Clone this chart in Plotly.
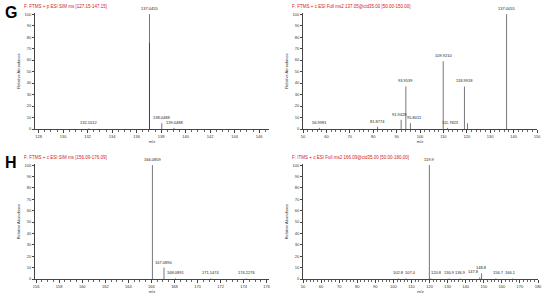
import plotly.graph_objects as go

# ---------------- data ----------------
g1_title = "F: FTMS + p ESI SIM ms [127.15-147.15]"
g1_mz = [132.1012, 137.0455, 138.0488, 139.0488]
g1_int = [0.5, 100, 5, 1]
g1_lab = ["132.1012", "137.0455", "138.0488", "139.0488"]
g1_dark_mz = [137.0455]
g1_dark_int = [75]

g2_title = "F: FTMS + c ESI Full ms2 137.05@cid35.00 [50.00-150.00]"
g2_mz = [56.9981, 81.8774, 91.9428, 93.9539, 95.9011, 109.9210, 111.7823, 118.9918, 120.3, 137.0055]
g2_int = [1, 2, 8, 37, 5, 59, 1, 37, 5, 100]
g2_lab = ["56.9981", "81.8774", "91.9428", "93.9539", "95.8011", "109.9210", "111.7823", "118.9918", "", "137.0055"]
g2_shift = [0, 0, -2, 0, 4, 0, 3, 0, 0, 0]

h1_title = "F: FTMS + c ESI SIM ms [156.09-176.09]"
h1_mz = [166.0859, 167.0890, 168.0891, 171.1474, 174.2276]
h1_int = [100, 10, 0.5, 0.5, 0.5]
h1_lab = ["166.0859", "167.0890", "168.0891", "171.1474", "174.2276"]

h2_title = "F: ITMS + c ESI Full ms2 166.09@cid35.00 [50.00-180.00]"
h2_mz = [102.8, 107.0, 119.9, 120.8, 130.9, 136.9, 147.8, 148.8, 156.7, 166.1]
h2_int = [0.5, 0.5, 100, 0.5, 0.5, 0.5, 1.5, 5, 0.5, 0.5]
h2_lab = ["102.8", "107.0", "119.9", "120.8", "130.9", "136.9", "147.8", "148.8", "156.7", "166.1"]
h2_shift = [0, 4, 0, 6, 0, 0, -6, 0, 3, -2]

W, H = 550, 295
FONT = "Liberation Sans"

def px_x(a, b):
    return [a / W, b / W]

def px_y(top, bottom):
    return [1 - bottom / H, 1 - top / H]

panels = [
    dict(mz=g1_mz, it=g1_int, lab=g1_lab, title=g1_title, xr=[127.7, 146.8], dt=2, x0=128,
         xd=px_x(35, 269), yd=px_y(13, 129), minor=0.5, shift=None),
    dict(mz=g2_mz, it=g2_int, lab=g2_lab, title=g2_title, xr=[50, 150], dt=10, x0=50,
         xd=px_x(303, 537), yd=px_y(13, 129), minor=2, shift=g2_shift),
    dict(mz=h1_mz, it=h1_int, lab=h1_lab, title=h1_title, xr=[155.9, 176.2], dt=2, x0=158,
         xd=px_x(35, 269), yd=px_y(164, 279), minor=0.5, shift=None),
    dict(mz=h2_mz, it=h2_int, lab=h2_lab, title=h2_title, xr=[50, 180], dt=10, x0=50,
         xd=px_x(303, 538), yd=px_y(164, 279), minor=2, shift=h2_shift),
]

fig = go.Figure()
layout = dict(
    width=W, height=H, margin=dict(l=0, r=0, t=0, b=0, autoexpand=False),
    paper_bgcolor="white", plot_bgcolor="white", showlegend=False,
    font=dict(family=FONT, size=4, color="#333"),
)
annotations = []

for i, p in enumerate(panels):
    n = "" if i == 0 else str(i + 1)
    xs, ys = [], []
    for m, v in zip(p["mz"], p["it"]):
        xs += [m, m, None]
        ys += [0, v, None]
    fig.add_trace(go.Scatter(x=xs, y=ys, mode="lines", line=dict(color="#777", width=1),
                             xaxis="x" + n, yaxis="y" + n, hoverinfo="skip"))
    if i == 0:
        xs2, ys2 = [], []
        for m, v in zip(g1_dark_mz, g1_dark_int):
            xs2 += [m, m, None]
            ys2 += [0, v, None]
        fig.add_trace(go.Scatter(x=xs2, y=ys2, mode="lines", line=dict(color="#444", width=1),
                                 xaxis="x", yaxis="y", hoverinfo="skip"))
    for k, (m, v, t) in enumerate(zip(p["mz"], p["it"], p["lab"])):
        if not t:
            continue
        annotations.append(dict(x=m, y=v, xref="x" + n, yref="y" + n, text=t, showarrow=False,
                                yanchor="bottom", xanchor="center", yshift=1,
                                xshift=(p["shift"][k] if p["shift"] else 0),
                                font=dict(size=4, color="#222", family=FONT)))
    layout["xaxis" + n] = dict(
        domain=p["xd"], range=p["xr"], anchor="y" + n, showgrid=False, zeroline=False,
        showline=True, linecolor="#444", linewidth=1, ticks="outside", ticklen=3,
        tickcolor="#444", tick0=p["x0"], dtick=p["dt"], tickfont=dict(size=4, color="#333"),
        minor=dict(ticks="outside", ticklen=1.5, dtick=p["minor"], tickcolor="#666"),
        title=dict(text="m/z", font=dict(size=4, color="#333"), standoff=2),
        automargin=False,
    )
    layout["yaxis" + n] = dict(
        domain=p["yd"], range=[0, 101], anchor="x" + n, showgrid=False, zeroline=False,
        showline=True, linecolor="#444", linewidth=1, ticks="outside", ticklen=2,
        tickcolor="#444", dtick=10, tickfont=dict(size=4, color="#333"),
        title=dict(text="Relative Abundance", font=dict(size=4, color="#333"), standoff=4),
        automargin=False,
    )
    # red scan header
    annotations.append(dict(x=p["xd"][0] - 13 / W, y=p["yd"][1] + 7 / H, xref="paper", yref="paper",
                            text=p["title"], showarrow=False, xanchor="left", yanchor="middle",
                            font=dict(size=4.5, color="#d62020", family=FONT)))

annotations.append(dict(x=3 / W, y=1 - 12 / H, xref="paper", yref="paper", text="<b>G</b>",
                        showarrow=False, xanchor="left", yanchor="middle",
                        font=dict(size=16, color="black", family=FONT)))
annotations.append(dict(x=3 / W, y=1 - 162 / H, xref="paper", yref="paper", text="<b>H</b>",
                        showarrow=False, xanchor="left", yanchor="middle",
                        font=dict(size=16, color="black", family=FONT)))
layout["annotations"] = annotations
fig.update_layout(**layout)
fig.write_html("out.html", config={"displayModeBar": False},
               post_script="document.body.style.margin='0px';")
